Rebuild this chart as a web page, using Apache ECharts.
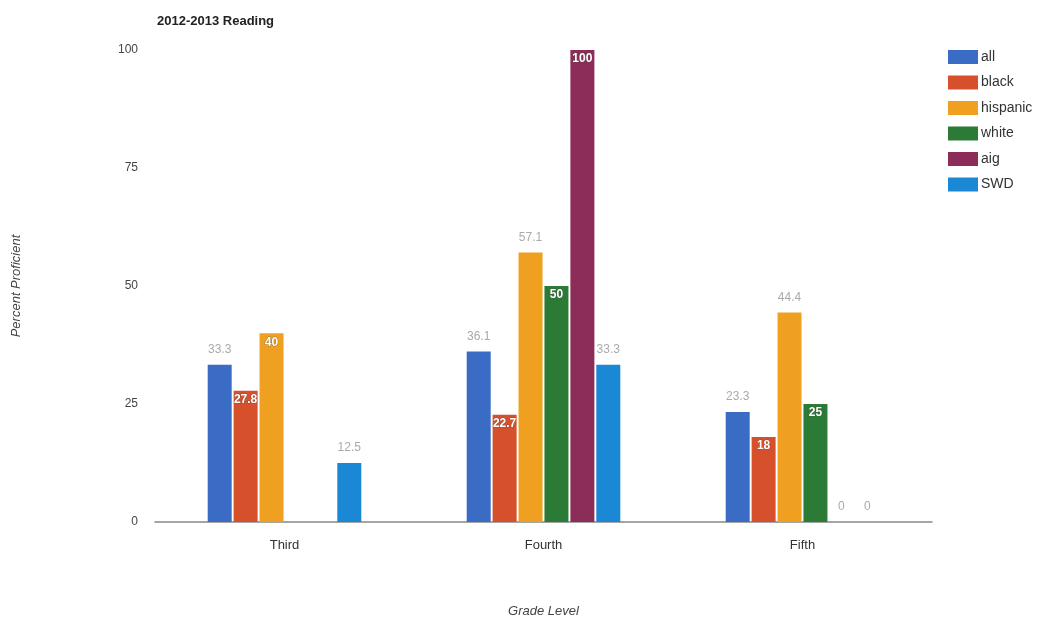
<!DOCTYPE html>
<html>
<head>
<meta charset="utf-8">
<script src="https://cdn.jsdelivr.net/npm/echarts@6/dist/echarts.min.js"></script>
<style>
  html, body { margin: 0; padding: 0; background: #fff; }
  #chart { width: 1045px; height: 624px; }
</style>
</head>
<body>
<div id="chart"></div>
<script>
// Grade levels and percent proficient per student group (null = no data)
const grades = ['Third', 'Fourth', 'Fifth'];
const allStudents = [33.3, 36.1, 23.3];
const black = [27.8, 22.7, 18];
const hispanic = [40, 57.1, 44.4];
const white = [null, 50, 25];
const aig = [null, 100, 0];
const swd = [12.5, 33.3, 0];
const yTicks = [0, 25, 50, 75, 100];

const groups = [
  { name: 'all', values: allStudents, color: '#3a6cc6', inside: [false, false, false] },
  { name: 'black', values: black, color: '#d6502c', inside: [true, true, true] },
  { name: 'hispanic', values: hispanic, color: '#f0a020', inside: [true, false, false] },
  { name: 'white', values: white, color: '#2b7a35', inside: [true, true, true] },
  { name: 'aig', values: aig, color: '#8c2c58', inside: [true, true, false] },
  { name: 'SWD', values: swd, color: '#1a88d4', inside: [false, false, false] }
];

const outsideLabel = { show: true, position: 'top', distance: 9, color: '#aaa', fontSize: 12, fontFamily: 'Liberation Sans, Arial' };
const insideLabel = { show: true, position: 'insideTop', distance: 3, color: '#fff', fontSize: 12, fontWeight: 'bold', fontFamily: 'Liberation Sans, Arial', textBorderColor: 'rgba(80,80,80,0.5)', textBorderWidth: 1 };

const series = groups.map(g => ({
  name: g.name,
  type: 'bar',
  barWidth: 24,
  barGap: '8%',
  itemStyle: { color: g.color },
  data: g.values.map((v, i) => ({
    value: v,
    label: g.inside[i] && v > 0 ? insideLabel : outsideLabel
  }))
}));

const chart = echarts.init(document.getElementById('chart'), null, { renderer: 'canvas' });
chart.setOption({
  animation: false,
  backgroundColor: '#fff',
  textStyle: { fontFamily: 'Liberation Sans, Arial' },
  title: {
    text: '2012-2013 Reading',
    left: 152, top: 10,
    textStyle: { fontSize: 13, fontWeight: 'bold', color: '#222', fontFamily: 'Liberation Sans, Arial' }
  },
  legend: {
    orient: 'vertical',
    left: 943, top: 45,
    itemWidth: 30, itemHeight: 14, itemGap: 11.5,
    icon: 'rect',
    textStyle: { fontSize: 14, color: '#333', padding: [0, 0, 0, -2] },
    data: groups.map(g => g.name)
  },
  grid: { left: 155, right: 113, top: 50, bottom: 102 },
  xAxis: {
    type: 'category',
    data: grades,
    name: 'Grade Level',
    nameLocation: 'middle',
    nameGap: 83,
    nameTextStyle: { fontStyle: 'italic', fontSize: 13, color: '#444' },
    axisLine: { lineStyle: { color: '#888', width: 1.5 } },
    axisTick: { show: false },
    axisLabel: { fontSize: 13, color: '#333', margin: 17 }
  },
  yAxis: {
    type: 'value',
    min: yTicks[0], max: yTicks[yTicks.length - 1], interval: 25,
    name: 'Percent Proficient',
    nameLocation: 'middle',
    nameGap: 132,
    nameRotate: 90,
    nameTextStyle: { fontStyle: 'italic', fontSize: 13, color: '#444' },
    axisLine: { show: false },
    axisTick: { show: false },
    splitLine: { show: false },
    axisLabel: { fontSize: 12, color: '#444', margin: 17 }
  },
  series: series
});
</script>
</body>
</html>
